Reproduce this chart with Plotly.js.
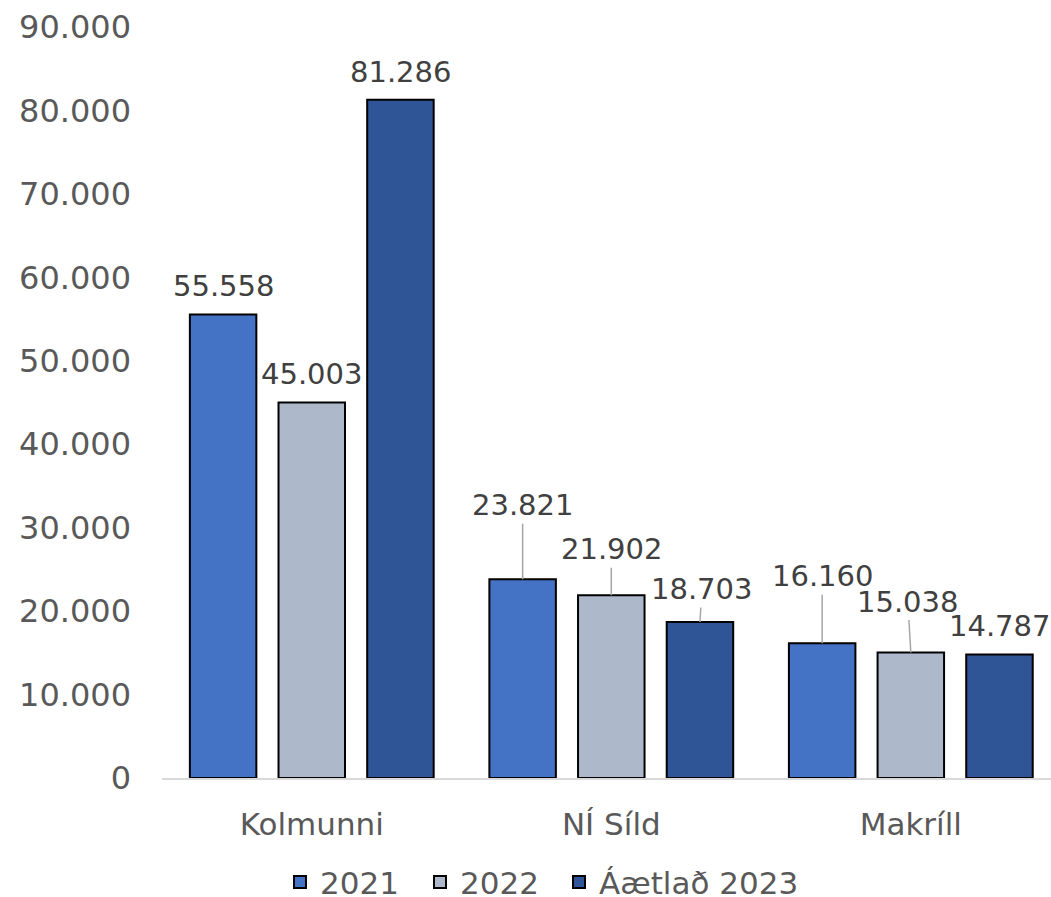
<!DOCTYPE html>
<html>
<head>
<meta charset="utf-8">
<script src="https://cdn.plot.ly/plotly-3.0.1.min.js"></script>
<style>html,body{margin:0;padding:0;background:#fff;}#chart{width:1051px;height:897px;}</style>
</head>
<body>
<div id="chart"></div>
<script>
// ---- data ----
const categories = ['Kolmunni', 'NÍ Síld', 'Makríll'];
const seriesNames = ['2021', '2022', 'Áætlað 2023'];
const values2021 = [55558, 23821, 16160];
const values2022 = [45003, 21902, 15038];
const values2023 = [81286, 18703, 14787];
const yTickVals = [0, 10000, 20000, 30000, 40000, 50000, 60000, 70000, 80000, 90000];

// ---- styles / label placement (pixels) ----
const colors = ['#4472C4', '#ADB9CA', '#2F5597'];
const labelDy = [[-28, -74, -67], [-28, -46, -51], [-28, -33, -29]];
const labelDx = [[0, 0, 0], [0, 0, -3], [0, 2, 0]];
const leader = [[false, true, true], [false, true, true], [false, true, false]];
const legendX = [0.1327, 0.2902, 0.4466];

const allValues = [values2021, values2022, values2023];
const bargap = 0.112;
const fmt = v => String(v).replace(/\B(?=(\d{3})+(?!\d))/g, '.');
const legendIds = allValues.map((_, j) => j === 0 ? 'legend' : 'legend' + (j + 1));

const traces = allValues.map((vals, j) => ({
  type: 'bar',
  name: seriesNames[j],
  x: categories,
  y: vals,
  legend: legendIds[j],
  marker: {color: colors[j], line: {color: '#000000', width: 2}},
  hoverinfo: 'skip'
}));

const slot = (1 - bargap) / allValues.length;
const annotations = [];
allValues.forEach((vals, j) => {
  vals.forEach((v, i) => {
    const xpos = i + (j - (allValues.length - 1) / 2) * slot;
    const base = {
      x: xpos, y: v, xref: 'x', yref: 'y',
      text: fmt(v),
      font: {family: 'DejaVu Sans, Verdana, sans-serif', size: 29, color: '#404040'}
    };
    if (leader[j][i]) {
      annotations.push(Object.assign(base, {
        showarrow: true, arrowhead: 0, arrowwidth: 1.5, arrowcolor: '#A6A6A6',
        standoff: 0, ax: labelDx[j][i], ay: labelDy[j][i]
      }));
    } else {
      annotations.push(Object.assign(base, {
        showarrow: false, yanchor: 'middle', xanchor: 'center',
        xshift: labelDx[j][i], yshift: -labelDy[j][i]
      }));
    }
  });
});

const layout = {
  width: 1051, height: 897,
  margin: {l: 162, r: 0, t: 27, b: 119, autoexpand: false},
  paper_bgcolor: '#ffffff', plot_bgcolor: '#ffffff',
  separators: ',.',
  barmode: 'group',
  bargap: bargap,
  bargroupgap: 0.25,
  font: {family: 'DejaVu Sans, Verdana, sans-serif', color: '#595959'},
  xaxis: {
    type: 'category',
    range: [-0.5, 2.468],
    showgrid: false, zeroline: false,
    showline: true, linecolor: '#D9D9D9', linewidth: 1.5,
    ticks: '', ticklabelstandoff: 18,
    tickfont: {size: 31, color: '#595959'}
  },
  yaxis: {
    range: [0, 90000],
    tickvals: yTickVals,
    tickformat: ',d',
    showgrid: false, zeroline: false, showline: false,
    ticks: '', ticklabelstandoff: 30,
    tickfont: {size: 32, color: '#595959'}
  },
  showlegend: true,
  annotations: annotations
};
legendIds.forEach((id, j) => {
  layout[id] = {
    orientation: 'h',
    x: legendX[j], xanchor: 'left',
    y: -0.139, yanchor: 'middle',
    bgcolor: 'rgba(0,0,0,0)',
    font: {size: 31, color: '#595959'},
    itemwidth: 30
  };
});

Plotly.newPlot('chart', traces, layout, {displayModeBar: false, staticPlot: true});
</script>
</body>
</html>
